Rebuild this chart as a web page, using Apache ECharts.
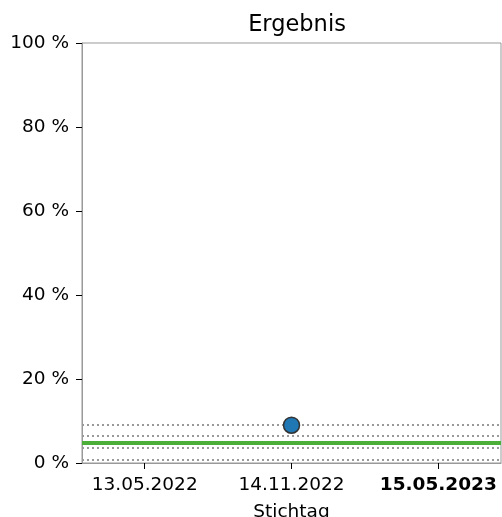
<!DOCTYPE html>
<html>
<head>
<meta charset="utf-8">
<script src="https://cdn.jsdelivr.net/npm/echarts@6/dist/echarts.min.js"></script>
<style>html,body{margin:0;padding:0;background:#fff;}#c{width:502px;height:517px;}</style>
</head>
<body>
<div id="c"></div>
<script>
const categories = ['13.05.2022', '14.11.2022', '15.05.2023'];
const results = [null, 9.0, null];
const targetValue = 4.9;
const bandValues = [9.2, 6.4, 3.6, 0.8];
const yTicks = [0, 20, 40, 60, 80, 100];

const chart = echarts.init(document.getElementById('c'), null, {renderer: 'canvas'});
const pts = [];
results.forEach((v, i) => { if (v !== null) pts.push([i, v]); });
const idx = categories.map((_, i) => i);
const font = 'DejaVu Sans';

chart.setOption({
  animation: false,
  title: {
    text: 'Ergebnis', left: 292, top: 9, textAlign: 'center',
    textStyle: {fontFamily: font, fontSize: 22.5, fontWeight: 'normal', color: '#000'}
  },
  grid: {left: 82, right: 1, top: 43, bottom: 54, show: true, borderColor: '#999', borderWidth: 1,
         containLabel: false, outerBoundsMode: 'none'},
  xAxis: {
    type: 'value', min: -0.427, max: 2.427,
    name: 'Stichtag', nameLocation: 'middle', nameGap: 40,
    nameTextStyle: {fontFamily: font, fontSize: 18.5, color: '#000'},
    axisLine: {show: true, onZero: false, lineStyle: {color: '#999', width: 1}},
    axisTick: {show: true, customValues: idx, length: 6, lineStyle: {color: '#000', width: 1}},
    splitLine: {show: false},
    axisLabel: {
      customValues: idx, margin: 13,
      formatter: v => v === categories.length - 1 ? '{b|' + categories[v] + '}' : categories[v],
      fontFamily: font, fontSize: 18.5, color: '#000',
      rich: {b: {fontFamily: font, fontSize: 18.5, fontWeight: 'bold', color: '#000'}}
    }
  },
  yAxis: {
    type: 'value', min: 0, max: 100, interval: 20,
    axisLine: {show: true, onZero: false, lineStyle: {color: '#999', width: 1}},
    axisTick: {show: true, length: 6, lineStyle: {color: '#000', width: 1}},
    splitLine: {show: false},
    axisLabel: {formatter: '{value} %', fontFamily: font, fontSize: 18.5, color: '#000', margin: 13}
  },
  series: [{
    type: 'scatter',
    data: pts,
    symbolSize: 16,
    z: 5,
    itemStyle: {color: '#1f77b4', borderColor: '#333', borderWidth: 1.5, opacity: 1},
    markLine: {
      silent: true, symbol: 'none', label: {show: false}, animation: false,
      data: [
        {yAxis: targetValue, lineStyle: {color: '#4caf3a', width: 4, type: 'solid'}},
        ...bandValues.map(v => ({yAxis: v, lineStyle: {color: '#999', width: 2, type: [2, 3]}}))
      ]
    }
  }]
});
</script>
</body>
</html>
